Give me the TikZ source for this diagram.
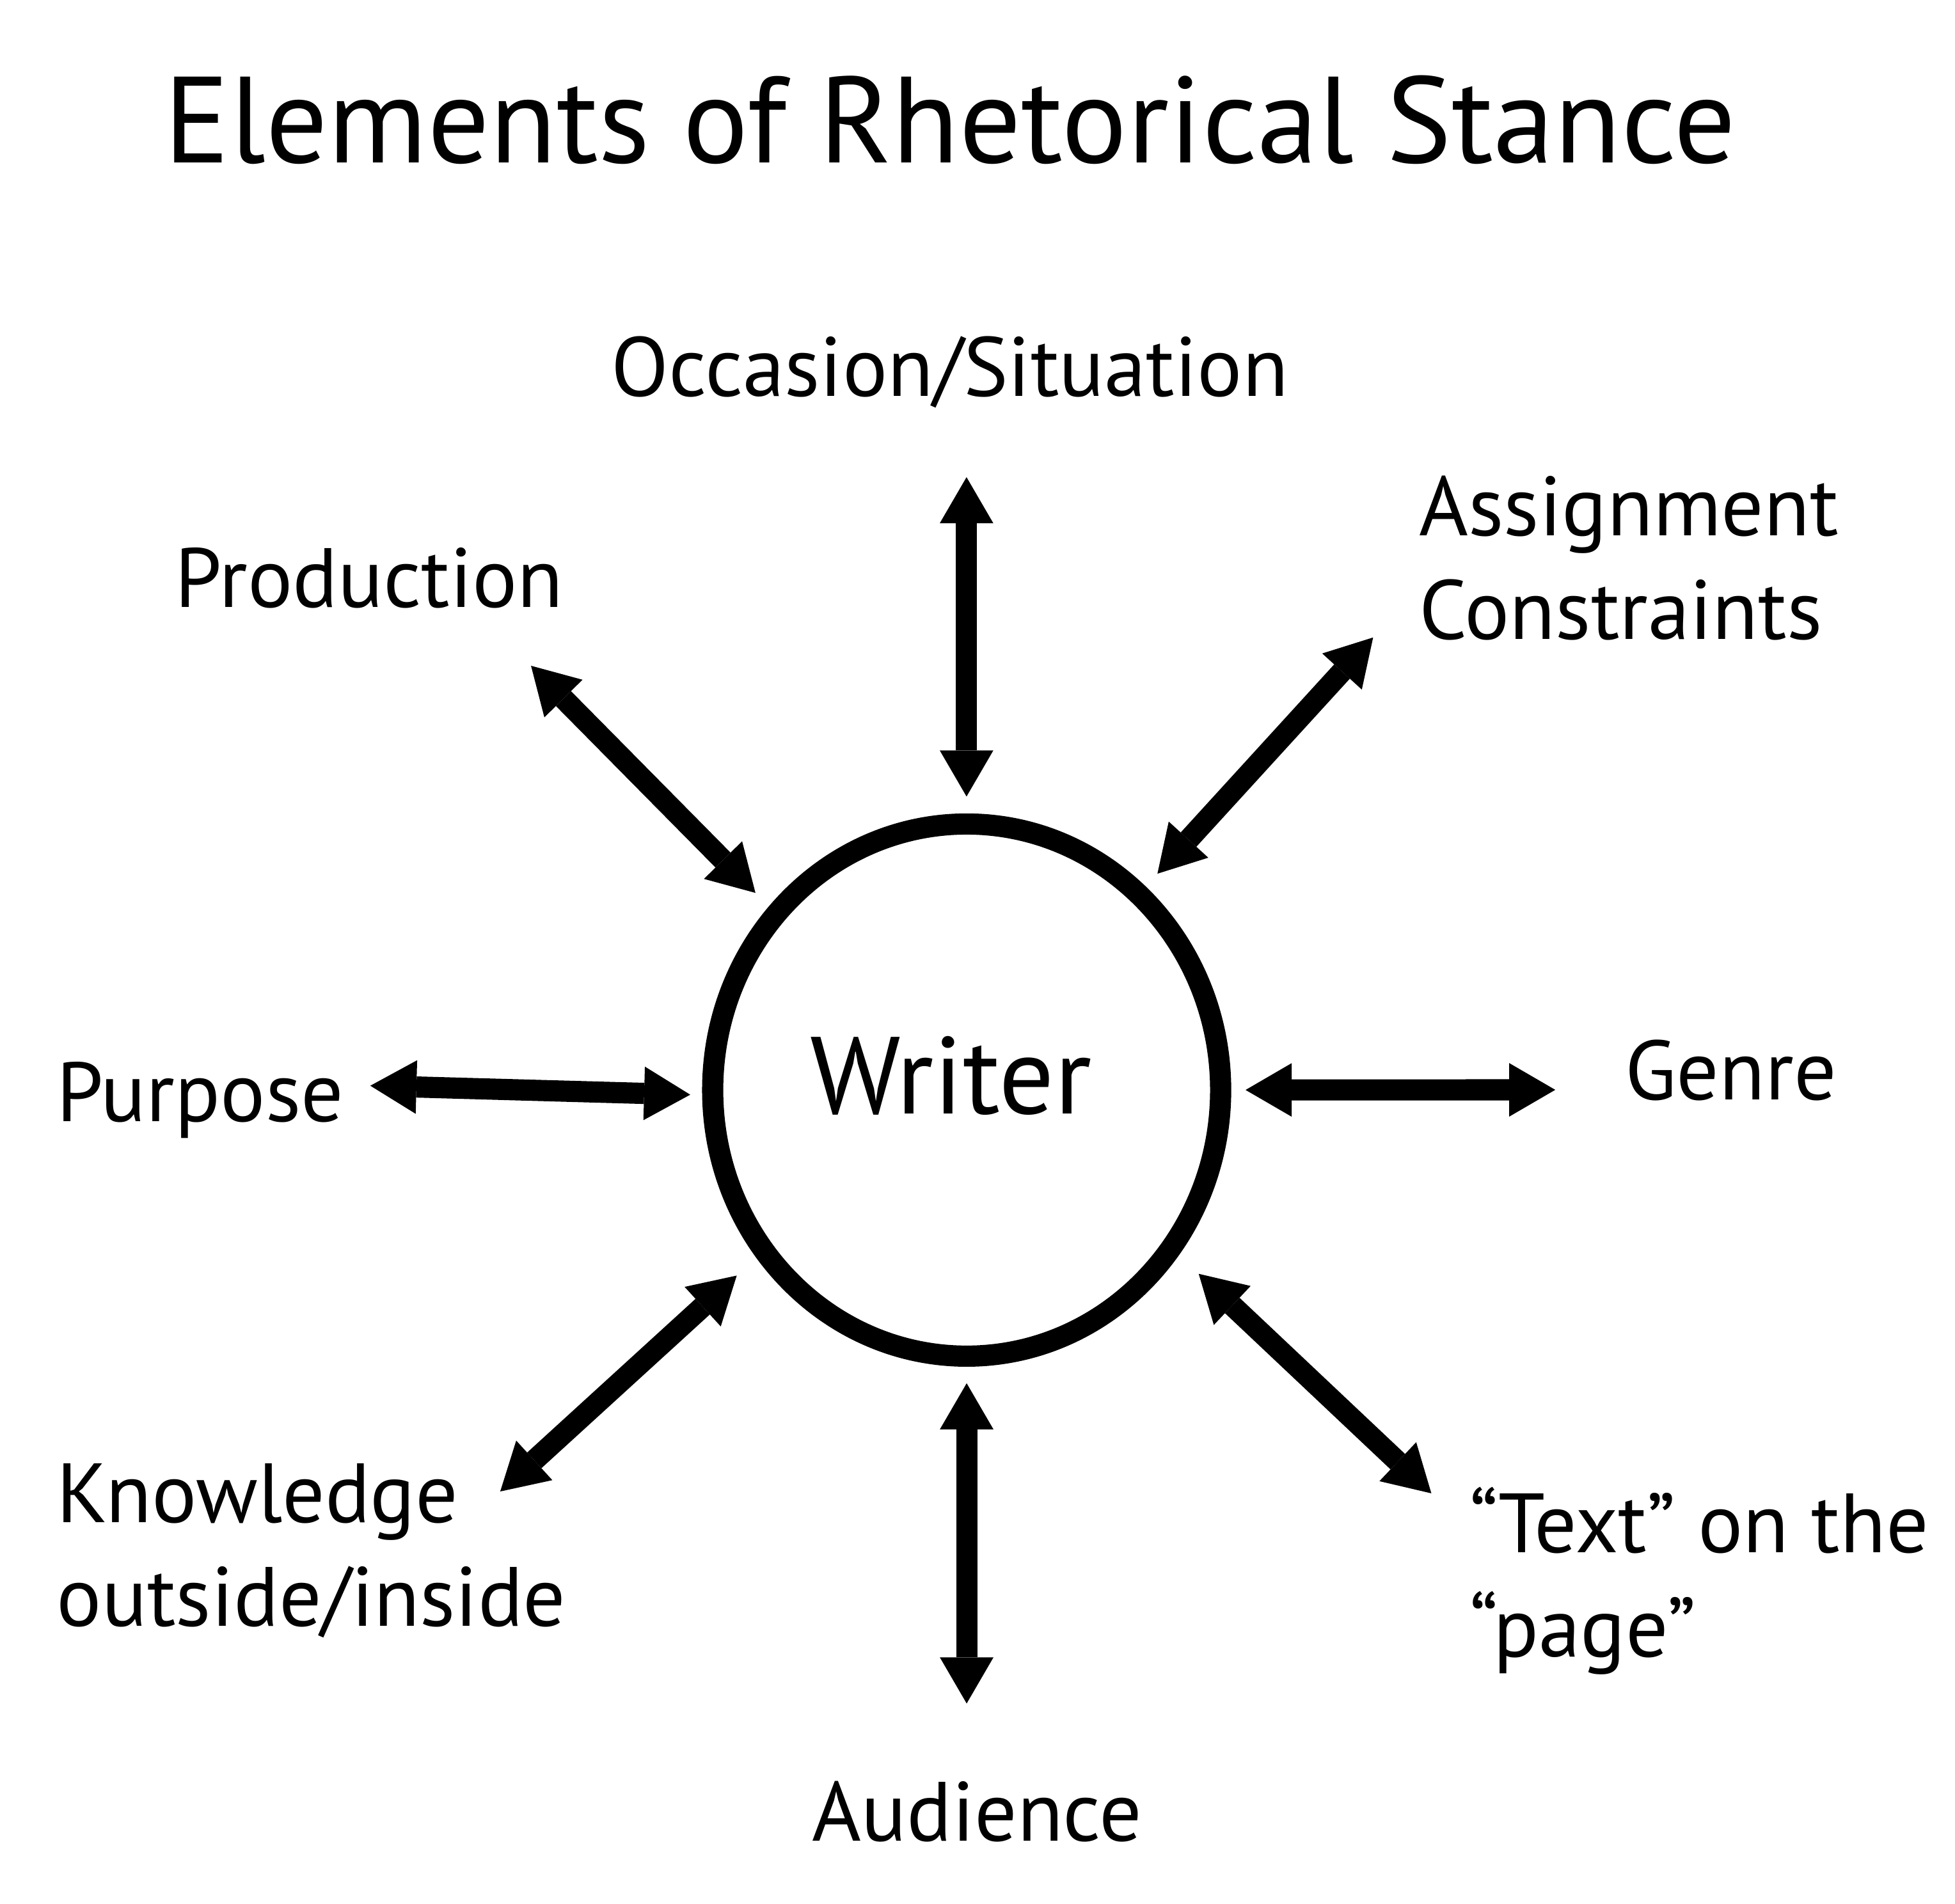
\documentclass[tikz,border=0pt]{standalone}
\usepackage{fontspec}
\setmainfont{PT Sans}
\usetikzlibrary{arrows.meta,shapes.geometric}

\begin{document}
\begin{tikzpicture}[x=0.02cm, y=-0.02cm,
		titletext/.style={inner sep=0, font=\fontsize{56}{64}\selectfont},
		elemtext/.style={inner sep=0, align=left, font=\fontsize{38.4}{47.5}\selectfont},
		hub/.style={draw, ellipse, line width=0.34cm, inner sep=0,
			minimum width=8.15cm, minimum height=8.54cm},
		twoway/.style={line width=0.34cm,
			{Triangle[width=0.86cm, length=0.74cm, line width=0pt]}-{Triangle[width=0.86cm, length=0.74cm, line width=0pt]}}]
		%%%%% START %%%%%
		
		\useasboundingbox (0, 0) rectangle (1568, 1527);
		
		\node[titletext, anchor=base] (title) at (762, 130.8) {Elements of Rhetorical Stance};
		
		\node[hub] (writer) at (775.3, 874.5) {};
		\node[inner sep=0, anchor=base west, font=\fontsize{50}{56}\selectfont] (writertext) at (649.5, 893.6) {Writer};
		
		% single lines sit on their baseline, two-line labels on the second one
		\node[elemtext, anchor=base west] (occasion) at (490, 318) {Occasion/Situation};
		\node[elemtext, anchor=base west] (production) at (140, 487) {Production};
		\node[elemtext, anchor=base west] (assignment) at (1138, 513) {Assignment\\Constraints};
		\node[elemtext, anchor=base west] (purpose) at (45.2, 899.5) {Purpose};
		\node[elemtext, anchor=base west] (genre) at (1303, 882) {Genre};
		\node[elemtext, anchor=base west] (knowledge) at (45.2, 1304.6) {Knowledge\\outside/inside};
		\node[elemtext, anchor=base west] (textpage) at (1178.4, 1329.2) {“Text” on the\\“page”};
		\node[elemtext, anchor=base west] (audience) at (651, 1477) {Audience};
		
		\coordinate (occasion-end) at (775.2, 382.8);
		\coordinate (occasion-hub) at (775.2, 639);
		\coordinate (audience-end) at (775.3, 1366.6);
		\coordinate (audience-hub) at (775.3, 1109.7);
		\coordinate (production-end) at (425.9, 534.1);
		\coordinate (production-hub) at (605.9, 716.3);
		\coordinate (assignment-end) at (1101.3, 511.4);
		\coordinate (assignment-hub) at (928.3, 700.9);
		\coordinate (purpose-end) at (297, 871);
		\coordinate (purpose-hub) at (553.6, 878.2);
		\coordinate (genre-end) at (1247.4, 874.3);
		\coordinate (genre-hub) at (999, 874.4);
		\coordinate (knowledge-end) at (401.2, 1196.5);
		\coordinate (knowledge-hub) at (590.9, 1023.3);
		\coordinate (textpage-end) at (1148, 1198);
		\coordinate (textpage-hub) at (961.4, 1021.9);
		
		\foreach \elem in {occasion, audience, production, assignment, purpose, genre, knowledge, textpage}
			\draw[twoway] (\elem-end) -- (\elem-hub);
		
		%%%%% END %%%%%
\end{tikzpicture}
\end{document}
